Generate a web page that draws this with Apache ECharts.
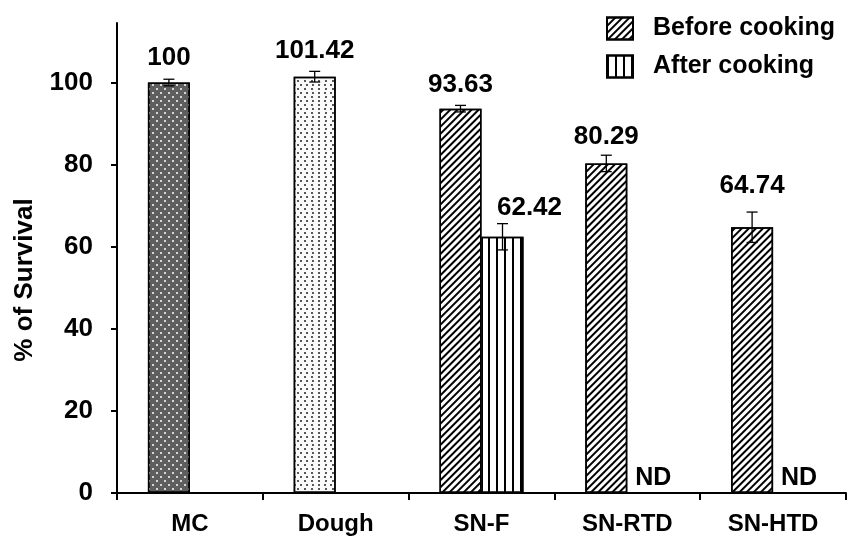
<!DOCTYPE html>
<html>
<head>
<meta charset="utf-8">
<script src="https://cdn.jsdelivr.net/npm/echarts@6/dist/echarts.min.js"></script>
<style>
html,body{margin:0;padding:0;background:#fff;}
#chart{width:853px;height:536px;}
</style>
</head>
<body>
<div id="chart"></div>
<script>
// ---- data ----
const categories = ['MC', 'Dough', 'SN-F', 'SN-RTD', 'SN-HTD'];
const beforeCooking = [100, 101.42, 93.63, 80.29, 64.74];
const afterCooking = [null, null, 62.42, 0, 0];
const beforeErr = [0.8, 1.3, 0.8, 2.0, 3.7];
const afterErr = [null, null, 3.2, null, null];
const yTicks = [0, 20, 40, 60, 80, 100];
const seriesNames = ['Before cooking', 'After cooking'];
const yAxisName = '% of Survival';
const ndText = 'ND';

// ---- styles ----
const FONT = '"Liberation Sans", Arial, sans-serif';
const BAR_W = 42;
const labelNudge = { 'b4': [0, -5], 'a2': [27, 5], 'b3': [0, 3] };

const hatchDecal = {
  symbol: 'rect', symbolSize: 1, color: '#000',
  dashArrayX: [1, 0], dashArrayY: [1.1, 2.7], rotation: -Math.PI / 4
};
const vertDecal = {
  symbol: 'rect', symbolSize: 1, color: '#000',
  dashArrayX: [1.5, 6], dashArrayY: [1, 0], rotation: 0
};
const mcDecal = {
  symbol: 'circle', symbolSize: 1, color: '#fff',
  dashArrayX: [[1.8, 5.2], [0, 3.5, 1.8, 1.7]], dashArrayY: [1.8, 1.8]
};
const doughDecal = {
  symbol: 'circle', symbolSize: 1, color: '#222',
  dashArrayX: [[1.4, 3.6], [0, 2.5, 1.4, 1.1]], dashArrayY: [1.4, 1.1]
};

const beforeData = beforeCooking.map((v, i) => {
  if (i === 0) return { value: v, itemStyle: { color: '#5e5e5e', decal: mcDecal } };
  if (i === 1) return { value: v, itemStyle: { color: '#fafafa', decal: doughDecal } };
  return v;
});
const afterData = afterCooking.map(v => v);

const errData = [];
beforeCooking.forEach((v, i) => { if (v != null && beforeErr[i] != null) errData.push([i, v, beforeErr[i], -1]); });
afterCooking.forEach((v, i) => { if (v != null && afterErr[i] != null) errData.push([i, v, afterErr[i], 1]); });

const chart = echarts.init(document.getElementById('chart'), null, { renderer: 'canvas' });
chart.setOption({
  animation: false,
  backgroundColor: '#fff',
  textStyle: { fontFamily: FONT },
  legend: {
    data: seriesNames,
    orient: 'vertical',
    left: 601, top: 11,
    itemWidth: 26, itemHeight: 22, itemGap: 13,
    selectedMode: false,
    icon: 'rect',
    textStyle: { fontFamily: FONT, fontSize: 25, fontWeight: 'bold', color: '#000', padding: [0, 0, 0, 15] }
  },
  grid: { left: 117, right: 7, top: 23, bottom: 41, containLabel: false },
  xAxis: {
    type: 'category',
    data: categories,
    boundaryGap: true,
    axisLine: { lineStyle: { color: '#000', width: 2 } },
    axisTick: { show: true, length: 7, lineStyle: { color: '#000', width: 2 } },
    axisLabel: { color: '#000', fontFamily: FONT, fontSize: 24, fontWeight: 'bold', margin: 19 }
  },
  yAxis: {
    type: 'value',
    min: 0, max: 114.5,
    interval: 20,
    name: yAxisName,
    nameLocation: 'middle',
    nameRotate: 90,
    nameGap: 79,
    nameTextStyle: { color: '#000', fontFamily: FONT, fontSize: 26, fontWeight: 'bold', padding: [0, 44, 0, 0] },
    splitLine: { show: false },
    axisLine: { show: true, lineStyle: { color: '#000', width: 2 } },
    axisTick: { show: true, length: 6, lineStyle: { color: '#000', width: 2 }, customValues: yTicks },
    axisLabel: { color: '#000', fontFamily: FONT, fontSize: 26, fontWeight: 'bold', margin: 24, customValues: yTicks }
  },
  series: [
    {
      name: seriesNames[0], type: 'bar', barWidth: BAR_W, barGap: '0%',
      data: beforeData,
      itemStyle: { color: '#fff', borderColor: '#000', borderWidth: 1.5, decal: hatchDecal }
    },
    {
      name: seriesNames[1], type: 'bar', barWidth: BAR_W, barGap: '0%',
      data: afterData,
      itemStyle: { color: '#fff', borderColor: '#000', borderWidth: 1.5, decal: vertDecal },
      label: {
        show: true, position: 'top', distance: 2, offset: [5, 0],
        formatter: p => (p.value === 0 ? ndText : ''),
        fontFamily: FONT, fontSize: 25, fontWeight: 'bold', color: '#000'
      }
    },
    {
      type: 'custom',
      data: errData,
      encode: { x: 0, y: 1 },
      z: 5,
      renderItem: function (params, api) {
        const i = api.value(0), v = api.value(1), e = api.value(2), side = api.value(3);
        const c = api.coord([i, v]);
        const x = c[0] + side * BAR_W / 2;
        const yt = api.coord([i, v + e])[1];
        const yb = api.coord([i, v - e])[1];
        const key = (side < 0 ? 'b' : 'a') + i;
        const nd = labelNudge[key] || [0, 0];
        const ls = { stroke: '#000', lineWidth: 1.3 };
        return {
          type: 'group',
          children: [
            { type: 'line', shape: { x1: x, y1: yt, x2: x, y2: yb }, style: ls },
            { type: 'line', shape: { x1: x - 5.5, y1: yt, x2: x + 5.5, y2: yt }, style: ls },
            { type: 'line', shape: { x1: x - 5.5, y1: yb, x2: x + 5.5, y2: yb }, style: ls },
            {
              type: 'text',
              style: {
                text: String(v), x: x + nd[0], y: yt - 21 + nd[1],
                align: 'center', verticalAlign: 'middle',
                font: 'bold 26px ' + FONT, fill: '#000'
              }
            }
          ]
        };
      }
    }
  ]
});
</script>
</body>
</html>
